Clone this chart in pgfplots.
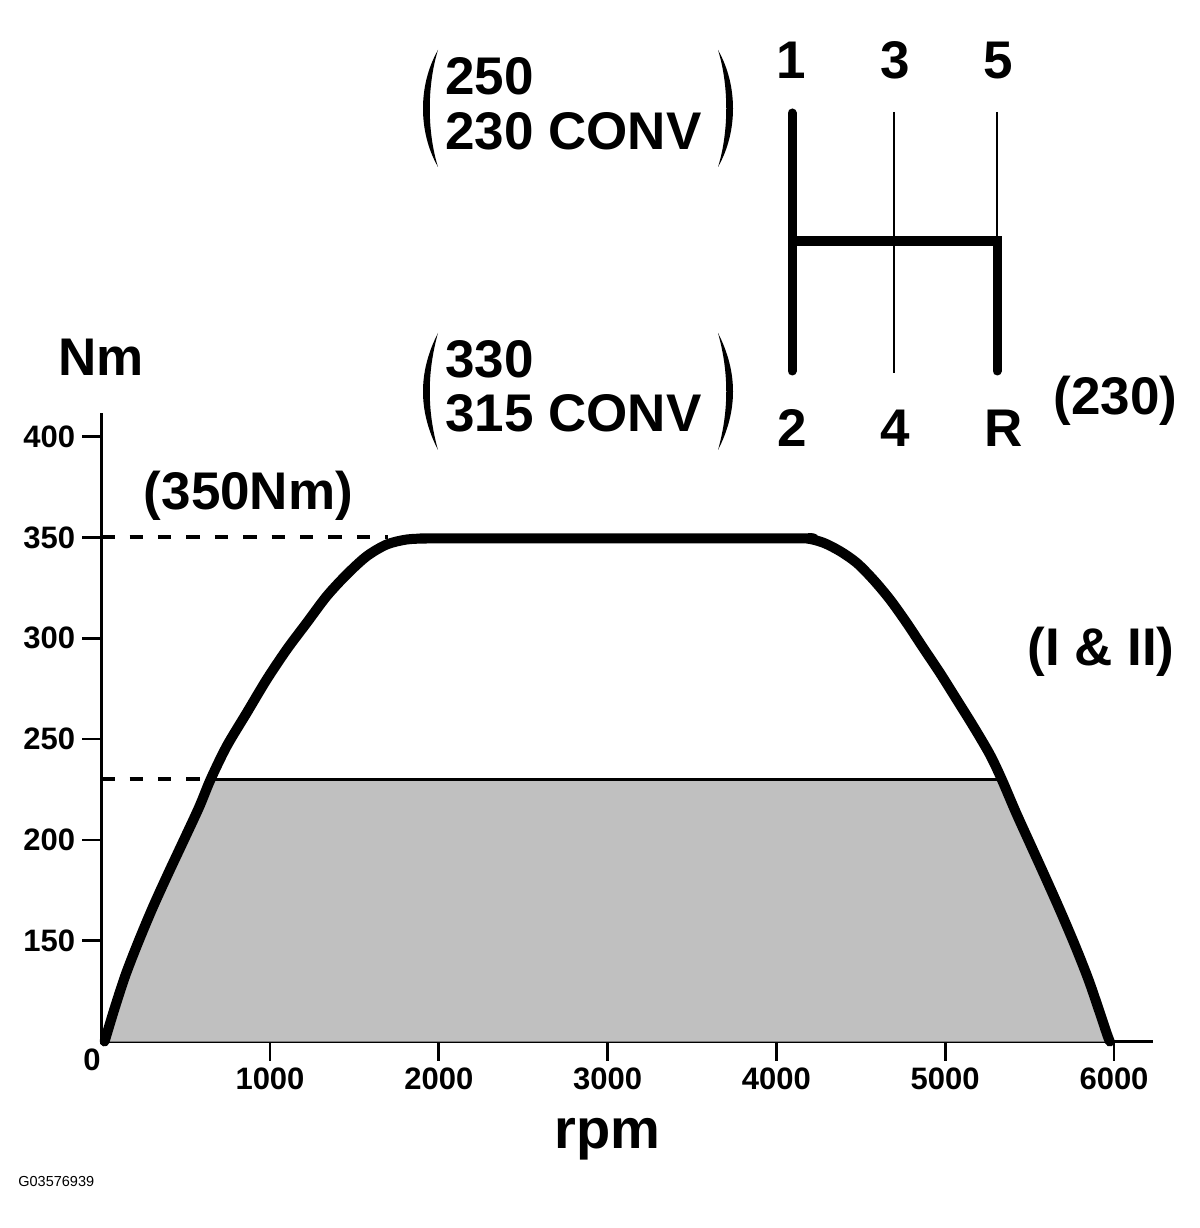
\documentclass[border=0pt]{standalone}
\usepackage{fontspec}
\setmainfont{Liberation Sans}
\usepackage{pgfplots}
\pgfplotsset{compat=1.18}

\definecolor{fillgray}{RGB}{192,192,192}
\newcommand{\bigtxt}{\fontsize{26.5}{27.5}\selectfont\bfseries}
\newcommand{\ticktxt}{\fontsize{15.5}{16}\selectfont\bfseries}

\begin{document}
\begin{tikzpicture}
\useasboundingbox (0,0) rectangle (600pt,614pt);

\begin{axis}[
    at={(50.6pt,93.25pt)}, anchor=south west,
    scale only axis, width=525.9pt, height=314.1pt,
    xmin=0, xmax=6231, ymin=100, ymax=411.6,
    axis x line=bottom, axis y line=left,
    axis line style={-, line width=1.35pt},
    xtick={1000,2000,...,6000}, ytick={150,200,...,400},
    tick align=outside, major tick length=9.5pt,
    every tick/.style={black, line width=1.35pt},
    tick label style={font=\ticktxt},
    /pgf/number format/1000 sep={},
    /pgf/number format/assume math mode=true,
    clip=false,
  ]
  % shaded area below 230 Nm
  \addplot[draw=none, fill=fillgray, mark=none] coordinates {
    (20,100) (80,116.6) (145,133.2) (222,149.8) (305,166.4) (395,183)
    (488,199.6) (580,216.2) (648,230)
    (5335,230) (5420,213.4) (5510,196.8) (5600,180.2) (5688,163.6)
    (5772,147) (5850,130.4) (5918,113.8) (5957,104) (5975,100)
  } -- cycle;
  \addplot[black, line width=1.7pt, mark=none] coordinates {(648,230) (5335,230)};
  \addplot[black, line width=2pt, dash pattern=on 6.7pt off 7.5pt, mark=none]
    coordinates {(0,230) (648,230)};
  \addplot[black, line width=2pt, dash pattern=on 6.7pt off 7.5pt, mark=none]
    coordinates {(0,350) (1700,350)};
  % torque curve
  \addplot[black, line width=5pt, smooth, tension=0.5, line cap=round, line join=round, mark=none]
    coordinates {
    (20,100) (80,116.6) (145,133.2) (222,149.8) (305,166.4) (395,183)
    (488,199.6) (580,216.2) (648,230) (743,246.4) (862,263) (980,279.5)
    (1099,294.4) (1217,307.6) (1336,320.9) (1454,331.6) (1573,340.7)
    (1691,346.5) (1810,349) (1930,349.5) (2050,349.5) (4060,349.5)
    (4180,349.5) (4278,347.4) (4377,343.2) (4476,337.4) (4574,329.1)
    (4673,319.2) (4772,307.6) (4870,295.2) (4969,282.8) (5068,269.6)
    (5167,256.3) (5265,242.3) (5335,230) (5420,213.4) (5510,196.8)
    (5600,180.2) (5688,163.6) (5772,147) (5850,130.4) (5918,113.8)
    (5957,104) (5975,100)
  };
\end{axis}

\begin{scope}[x=0.5pt, y=-0.5pt, shift={(0pt,614pt)}, every node/.style={inner sep=0pt}]
  % labels
  \node[anchor=base, font=\bigtxt] at (101,376) {Nm};
  \node[anchor=base, font=\bigtxt] at (248.5,510) {(350Nm)};
  \node[anchor=base, font=\fontsize{28}{29}\selectfont\bfseries] at (607.5,1149) {rpm};
  \node[anchor=base, font=\bigtxt] at (1101,666) {(I \& II)};
  \node[anchor=base, font=\bigtxt] at (1115.5,415) {(230)};
  \node[anchor=base, font=\ticktxt] at (92,1071) {0};
  \node[anchor=base west, font=\fontsize{7.25}{8}\selectfont] at (18,1187) {G03576939};

  \node[anchor=base west, font=\bigtxt] at (445,95) {250};
  \node[anchor=base west, font=\bigtxt] at (445,150) {230 CONV};
  \node[anchor=base west, font=\bigtxt] at (445,378) {330};
  \node[anchor=base west, font=\bigtxt] at (445,432) {315 CONV};

  % brackets
  \fill (438,50) .. controls (418,85) and (418,132) .. (438,167)
        .. controls (427,132) and (427,85) .. (438,50) -- cycle;
  \fill (718,50) .. controls (738,85) and (738,132) .. (718,167)
        .. controls (729,132) and (729,85) .. (718,50) -- cycle;
  \fill (438,333) .. controls (418,372) and (418,411) .. (438,450)
        .. controls (427,411) and (427,372) .. (438,333) -- cycle;
  \fill (718,333) .. controls (738,372) and (738,411) .. (718,450)
        .. controls (729,411) and (729,372) .. (718,333) -- cycle;

  % gear pattern
  \node[anchor=base, font=\bigtxt] at (791,79) {1};
  \node[anchor=base, font=\bigtxt] at (895,79) {3};
  \node[anchor=base, font=\bigtxt] at (998,79) {5};
  \node[anchor=base, font=\bigtxt] at (792,447) {2};
  \node[anchor=base, font=\bigtxt] at (895,447) {4};
  \node[anchor=base, font=\bigtxt] at (1004,447) {R};
  \draw[line width=4.5pt, line cap=round] (792,113) -- (792,371);
  \draw[line width=1.25pt] (894,112) -- (894,373);
  \draw[line width=1.25pt] (997,112) -- (997,241);
  \draw[line width=5pt] (792,241) -- (1001.5,241);
  \draw[line width=4.5pt, line cap=round] (997,241) -- (997,371);
\end{scope}
\end{tikzpicture}
\end{document}
